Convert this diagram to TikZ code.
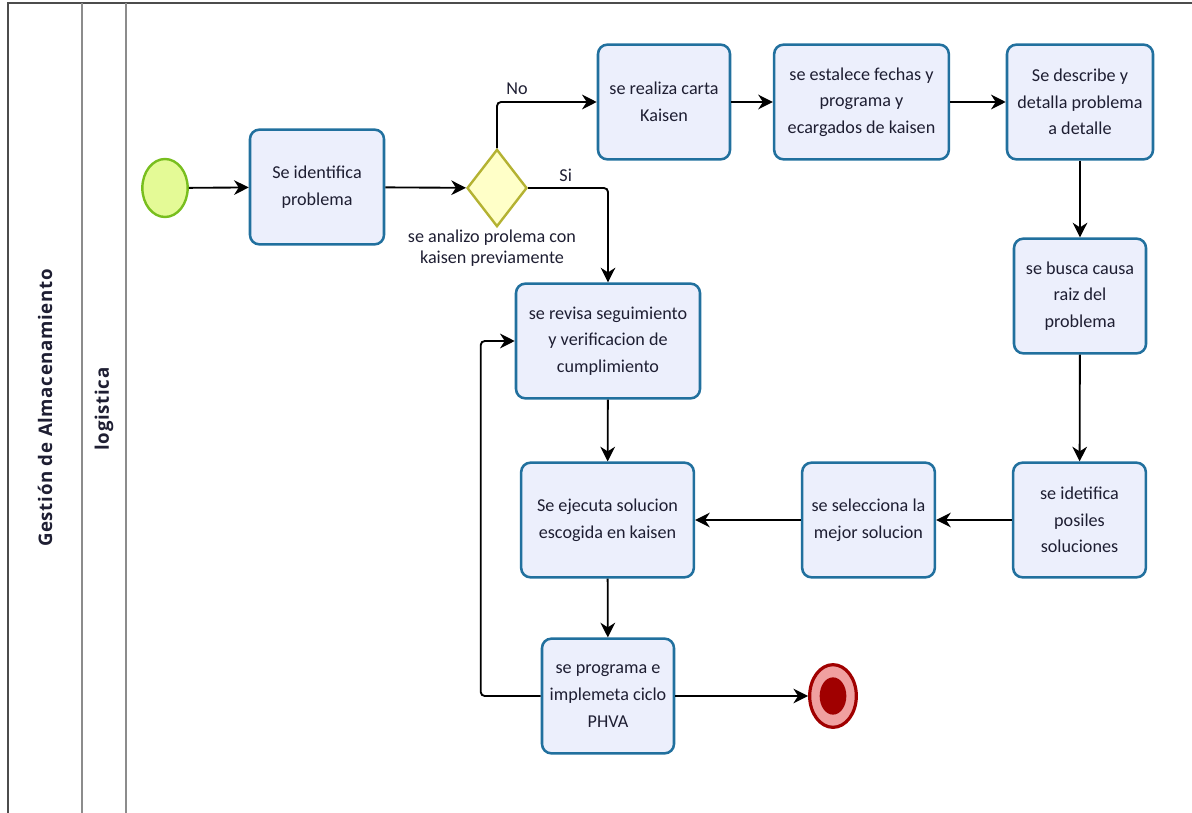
\documentclass[tikz,border=0pt]{standalone}
\usepackage{fontspec}
\setmainfont{Carlito}
\newfontfamily\poolfont{Open Sans}[LetterSpace=3.5]
\usetikzlibrary{arrows.meta, shapes.geometric, positioning}
\definecolor{taskline}{RGB}{33,112,158}
\definecolor{taskfill}{RGB}{236,239,252}
\definecolor{txt}{RGB}{30,30,50}
\definecolor{startline}{RGB}{120,190,30}
\definecolor{startfill}{RGB}{228,250,150}
\definecolor{gwline}{RGB}{180,178,50}
\definecolor{gwfill}{RGB}{255,255,200}
\definecolor{endred}{RGB}{160,0,0}
\definecolor{endpink}{RGB}{240,160,160}

\begin{document}
\begin{tikzpicture}[x=0.75pt, y=-0.75pt, >={Stealth[length=11pt,width=11pt,inset=3.5pt]},
    task/.style={draw=taskline, fill=taskfill, line width=1.9pt, rounded corners=7pt,
        minimum height=86pt, align=center, text=txt, font=\fontsize{13.6}{20}\selectfont},
    flow/.style={->, line width=1.4pt, rounded corners=3pt},
    lbl/.style={text=txt, align=center, font=\fontsize{13.6}{16}\selectfont, inner sep=1pt},
    pooltxt/.style={rotate=90, text=txt, font=\poolfont\bfseries\fontsize{14}{16}\selectfont}]
    \useasboundingbox (0,0) rectangle (1192,813);
    \draw[line width=1.2pt, black!70] (8,813) -- (8,3) -- (1192,3);
    \draw[line width=1.2pt, black!45] (82,3) -- (82,813) (126,3) -- (126,813);
    \node[pooltxt] (pool) at (45,408) {Gestión de Almacenamiento};
    \node[pooltxt] (lane) at (104,409) {logistica};

    \node[ellipse, draw=startline, fill=startfill, line width=1.8pt, minimum width=34pt, minimum height=43.5pt, inner sep=0] (start) at (165,188) {};
    \node[task, minimum width=100.5pt] (ident) at (317,187) {Se identifica\\problema};
    \node[diamond, draw=gwline, fill=gwfill, line width=1.8pt, minimum width=45pt, minimum height=58pt, inner sep=0] (gw) at (497,188) {};
    \node[lbl] (gwlbl) at (492,248) {se analizo prolema con\\kaisen previamente};
    \node[task, minimum width=99pt] (carta) at (664,102) {se realiza carta\\Kaisen};
    \node[task, minimum width=131pt] (fechas) at (861.5,102) {se estalece fechas y\\programa y\\ecargados de kaisen};
    \node[task, minimum width=109.5pt] (describe) at (1080,102) {Se describe y\\detalla problema\\a detalle};
    \node[task, minimum width=99pt] (causa) at (1080,296) {se busca causa\\raiz del\\problema};
    \node[task, minimum width=99.5pt] (posibles) at (1079.5,520) {se idetifica\\posiles\\soluciones};
    \node[task, minimum width=99.5pt] (selecciona) at (868.5,520) {se selecciona la\\mejor solucion};
    \node[task, minimum width=129.5pt] (ejecuta) at (607.5,520) {Se ejecuta solucion\\escogida en kaisen};
    \node[task, minimum width=138pt] (revisa) at (608,341) {se revisa seguimiento\\y verificacion de\\cumplimiento};
    \node[task, minimum width=99pt] (phva) at (608,696) {se programa e\\implemeta ciclo\\PHVA};
    \node[ellipse, draw=endred, fill=endpink, line width=2.4pt, minimum width=35pt, minimum height=47pt, inner sep=0] (end) at (833,696) {};
    \node[ellipse, fill=endred, minimum width=20pt, minimum height=28pt, inner sep=0] (endin) at (end) {};

    \draw[flow] (start) -- (ident);
    \draw[flow] (ident) -- (gw);
    \draw[flow] (gw.north) |- node[lbl, pos=0.6, above=4pt] (no) {No} (carta);
    \draw[flow] (gw.east) -| node[lbl, pos=0.235, above=3pt] (si) {Si} (revisa.north);
    \draw[flow] (carta) -- (fechas);
    \draw[flow] (fechas) -- (describe);
    \draw[flow] (describe) -- (causa);
    \draw[flow] (causa) -- (posibles);
    \draw[flow] (posibles) -- (selecciona);
    \draw[flow] (selecciona) -- (ejecuta);
    \draw[flow] (revisa) -- (ejecuta);
    \draw[flow] (ejecuta) -- (phva);
    \draw[flow] (phva) -- (end);
    \draw[flow] (phva.west) -- ++(-60,0) |- (revisa.west);
\end{tikzpicture}
\end{document}
